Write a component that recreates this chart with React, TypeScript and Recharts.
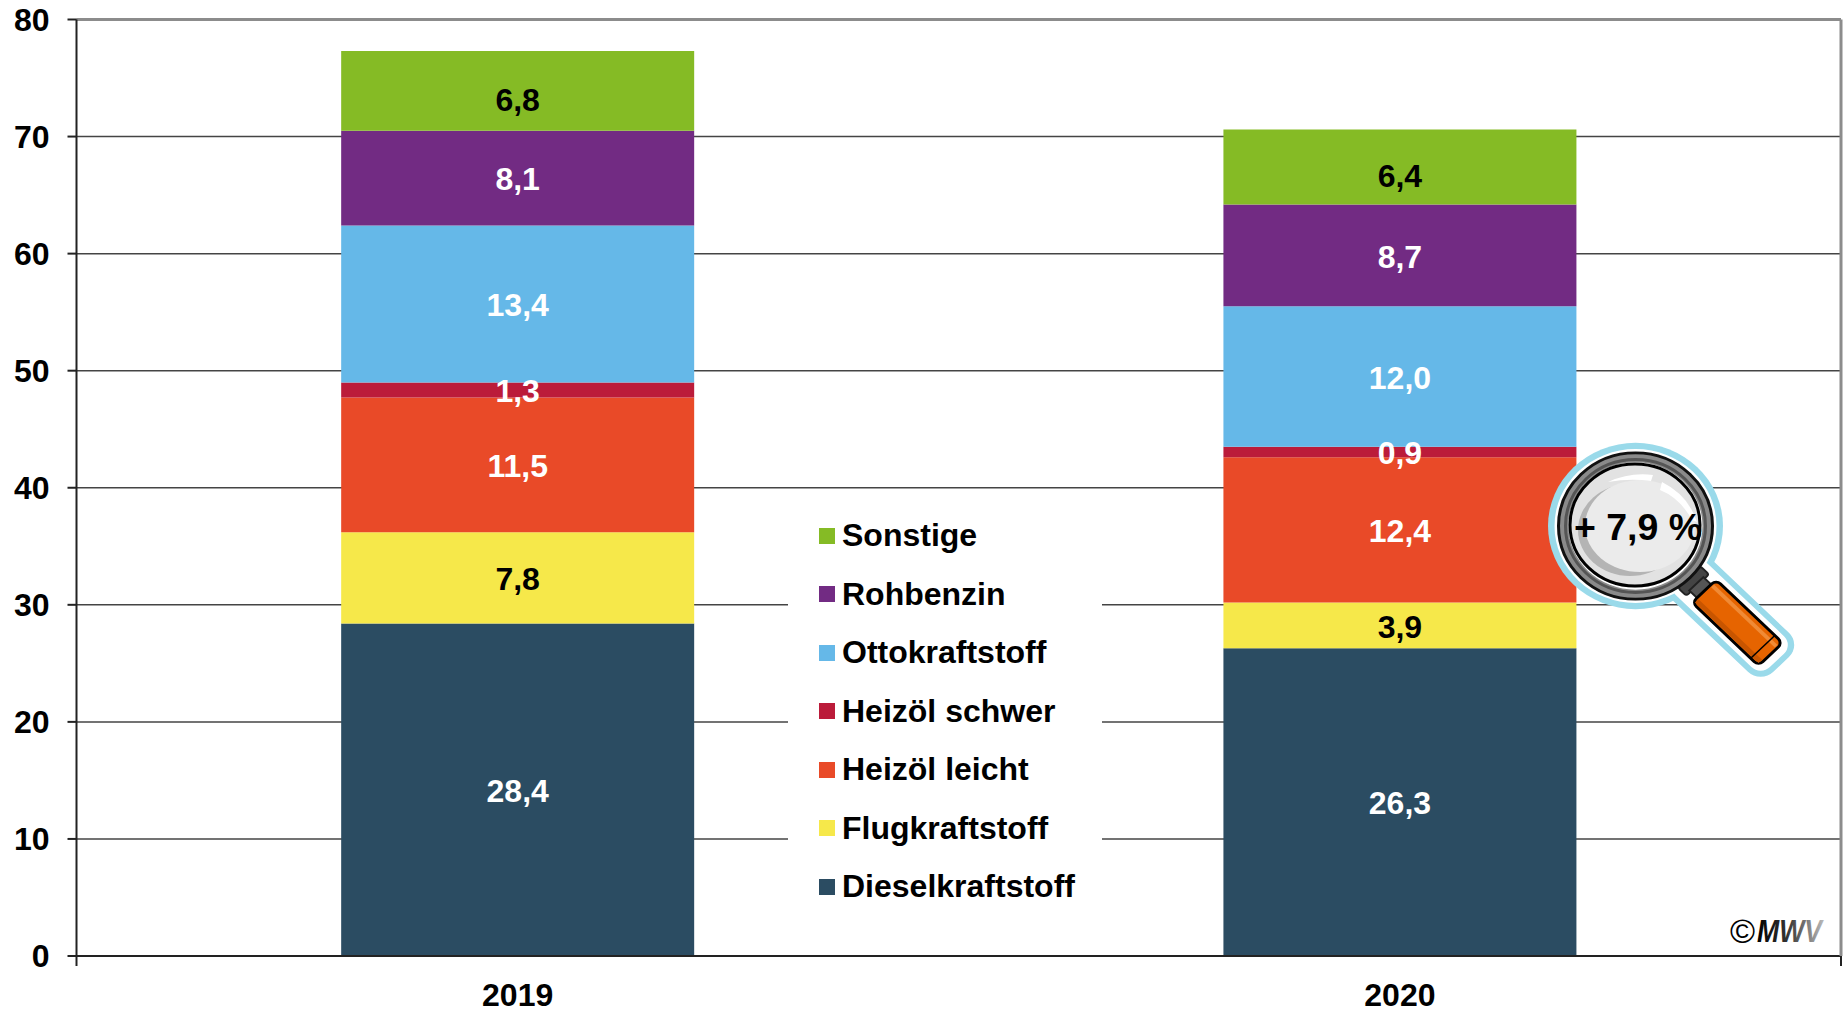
import { BarChart, Bar, XAxis, YAxis, CartesianGrid, LabelList, Legend, ReferenceLine } from "recharts";

const years = ["2019", "2020"];
const dieselkraftstoff = [28.4, 26.3];
const flugkraftstoff = [7.8, 3.9];
const heizoelLeicht = [11.5, 12.4];
const heizoelSchwer = [1.3, 0.9];
const ottokraftstoff = [13.4, 12.0];
const rohbenzin = [8.1, 8.7];
const sonstige = [6.8, 6.4];

const yTicks = [0, 10, 20, 30, 40, 50, 60, 70, 80];
const edgeTicks = [0, 1, 2];

const series = [
  { name: "Dieselkraftstoff", values: dieselkraftstoff, color: "#2B4C62", label: "#fff" },
  { name: "Flugkraftstoff", values: flugkraftstoff, color: "#F6E84A", label: "#000" },
  { name: "Heizöl leicht", values: heizoelLeicht, color: "#E94A28", label: "#fff" },
  { name: "Heizöl schwer", values: heizoelSchwer, color: "#BB1B3A", label: "#fff" },
  { name: "Ottokraftstoff", values: ottokraftstoff, color: "#65B8E8", label: "#fff" },
  { name: "Rohbenzin", values: rohbenzin, color: "#722B83", label: "#fff" },
  { name: "Sonstige", values: sonstige, color: "#85BB25", label: "#000" },
];

const data = years.map((year, i) => {
  const row: Record<string, string | number> = { year };
  series.forEach((s) => {
    row[s.name] = s.values[i];
  });
  return row;
});

const FONT = "'Liberation Sans', Arial, sans-serif";
const formatValue = (v: number) => v.toFixed(1).replace(".", ",");

function FuelLegend() {
  return (
    <div style={{ width: 314, height: 400, background: "#fff", position: "relative", fontFamily: FONT }}>
      {[...series].reverse().map((s, i) => (
        <div
          key={s.name}
          style={{
            position: "absolute",
            left: 31,
            top: 5.5 + i * 58.5,
            height: 40,
            display: "flex",
            alignItems: "center",
            fontSize: 32,
            fontWeight: 700,
            color: "#000",
            whiteSpace: "nowrap",
          }}
        >
          <span style={{ width: 16, height: 16, background: s.color, marginRight: 7 }} />
          {s.name}
        </div>
      ))}
    </div>
  );
}

// lupe with the change label, sits on top of the chart
function Magnifier() {
  return (
    <svg width={1846} height={1010} style={{ position: "absolute", left: 0, top: 0, pointerEvents: "none" }}>
      <defs>
        <linearGradient id="mwv" x1="0" x2="1" y1="0" y2="0">
          <stop offset="0%" stopColor="#000" />
          <stop offset="45%" stopColor="#333" />
          <stop offset="100%" stopColor="#bbb" />
        </linearGradient>
        <clipPath id="lens">
          <ellipse cx={1635} cy={525} rx={65} ry={61} />
        </clipPath>
      </defs>
      <g transform="translate(1635.5 526) scale(1 0.95) rotate(45)">
        <rect x={60} y={-29} width={146} height={58} rx={18} fill="#9ADAEA" />
        <circle r={87.5} fill="#9ADAEA" />
        <rect x={68} y={-23} width={132} height={46} rx={13} fill="#fff" />
        <circle r={81} fill="#fff" />
        <rect x={76} y={-16} width={12} height={32} rx={3} fill="#444" stroke="#222" strokeWidth={2} />
        <rect x={86} y={-10} width={14} height={20} fill="#555" stroke="#222" strokeWidth={2} />
        <circle r={77} fill="#8a8a8a" stroke="#111" strokeWidth={3} />
        <circle r={70} fill="none" stroke="#555" strokeWidth={3} />
        <circle r={67} fill="#fff" />
        <circle r={65} fill="#E2E2E2" />
        <rect x={97} y={-17} width={94} height={34} rx={6} fill="#E66400" stroke="#000" strokeWidth={3} />
        <rect x={99} y={-12} width={90} height={4} fill="#F08A35" />
        <rect x={99} y={10} width={90} height={5} fill="#C85500" />
        <line x1={180} y1={-17} x2={180} y2={17} stroke="#000" strokeWidth={1.5} />
      </g>
      <g clipPath="url(#lens)">
        <ellipse cx={1630} cy={530} rx={52} ry={46} fill="#B4B4B4" />
        <ellipse cx={1640} cy={526} rx={55} ry={46} fill="#EBEBEB" />
        <path d="M1608 482 Q1630 472 1653 475 L1651 481 Q1630 478 1608 482 Z" fill="#fff" />
        <path d="M1662 482 Q1688 495 1697 522 L1692 520 Q1680 498 1660 490 Z" fill="#fff" />
      </g>
      <ellipse cx={1635} cy={525} rx={65} ry={61} fill="none" stroke="#000" strokeWidth={3} />
      <text x={1638} y={540} textAnchor="middle" fontFamily={FONT} fontWeight={700} fontSize={37.5} fill="#000">
        + 7,9 %
      </text>
      <text x={1730} y={943} fontFamily={FONT} fontSize={34} fill="#000">
        ©
      </text>
      <text x={1757} y={942} fontFamily={FONT} fontWeight={700} fontStyle="italic" fontSize={32} textLength={65} lengthAdjust="spacingAndGlyphs" fill="url(#mwv)">
        MWV
      </text>
    </svg>
  );
}

export default function App() {
  const tickStyle = { fill: "#000", fontSize: 32, fontWeight: 700, fontFamily: FONT };
  return (
    <div style={{ position: "absolute", left: 0, top: 0, width: 1846, height: 1010, background: "#fff" }}>
      <BarChart
        width={1846}
        height={1010}
        data={data}
        barCategoryGap="30%"
        margin={{ top: 19.5, right: 4.5, left: 0, bottom: 0 }}
      >
        <CartesianGrid vertical={false} stroke="#444" strokeWidth={1.5} />
        {/* default id axis stacks first, so it stays on the plot edge */}
        <XAxis
          type="number"
          orientation="bottom"
          domain={[0, 2]}
          ticks={edgeTicks}
          interval={0}
          height={1}
          tickSize={10}
          tickFormatter={() => ""}
          stroke="#222"
          strokeWidth={2}
        />
        <XAxis
          xAxisId="years"
          dataKey="year"
          height={53}
          axisLine={false}
          tickLine={false}
          tickMargin={20}
          tick={tickStyle}
        />
        <YAxis
          width={76.5}
          domain={[0, 80]}
          ticks={yTicks}
          interval={0}
          tickSize={9}
          tickMargin={18}
          stroke="#222"
          strokeWidth={2}
          tick={tickStyle}
        />
        <YAxis
          yAxisId="frame"
          orientation="right"
          width={0.5}
          domain={[0, 80]}
          tick={false}
          tickLine={false}
          stroke="#8c8c8c"
          strokeWidth={3}
        />
        <ReferenceLine y={80} stroke="#8c8c8c" strokeWidth={3} />
        {series.map((s) => (
          <Bar key={s.name} xAxisId="years" dataKey={s.name} stackId="fuel" fill={s.color} isAnimationActive={false}>
            <LabelList
              dataKey={s.name}
              position="center"
              formatter={formatValue}
              fill={s.label}
              dy={s.name === "Sonstige" ? 9 : 1}
              style={{ fontSize: 32, fontWeight: 700, fontFamily: FONT }}
            />
          </Bar>
        ))}
        <Legend
          layout="vertical"
          align="center"
          verticalAlign="middle"
          wrapperStyle={{ left: 788, top: 510, width: 314, height: 400 }}
          content={() => <FuelLegend />}
        />
      </BarChart>
      <Magnifier />
    </div>
  );
}
